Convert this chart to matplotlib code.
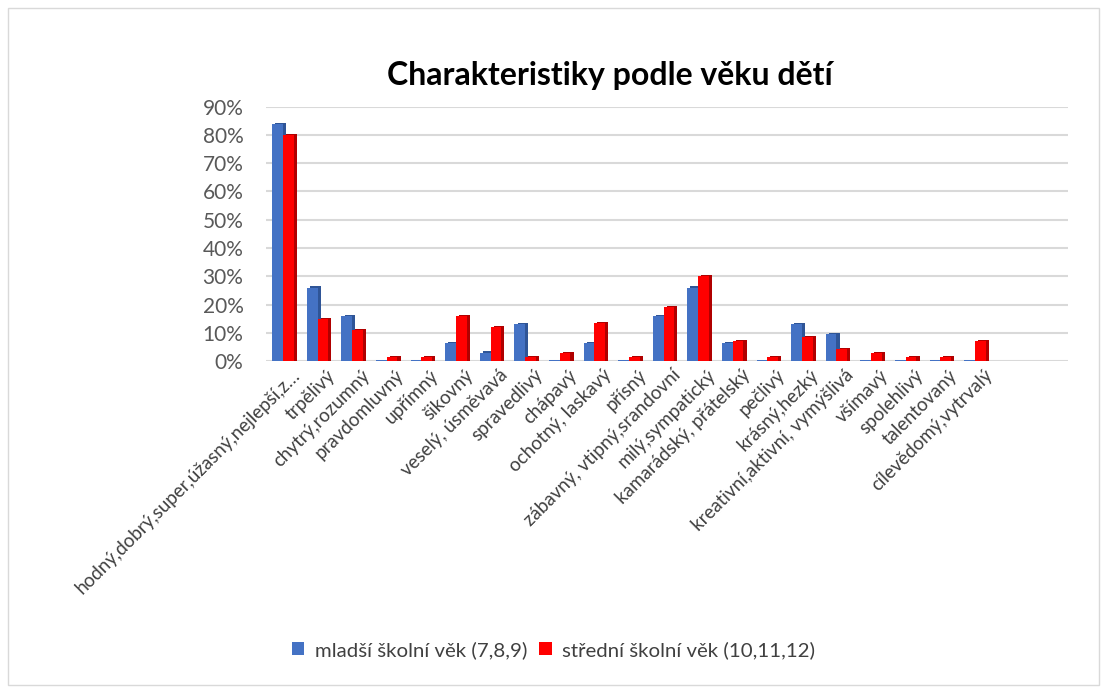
import numpy as np
import matplotlib
matplotlib.use("Agg")
import matplotlib.pyplot as plt
from matplotlib.patches import Rectangle
from matplotlib.ticker import PercentFormatter

plt.rcParams['font.family'] = ['Lato', 'DejaVu Sans']

categories = ["hodný,dobrý,super,úžasný,nejlepší,z…", "trpělivý", "chytrý,rozumný",
              "pravdomluvný", "upřímný", "šikovný", "veselý, úsměvavá", "spravedlivý",
              "chápavý", "ochotný, laskavý", "přísný", "zábavný, vtipný,srandovní",
              "milý,sympatický", "kamarádský, přátelský", "pečlivý", "krásný,hezký",
              "kreativní,aktivní, vymýšlivá", "všímavý", "spolehlivý", "talentovaný",
              "cílevědomý,vytrvalý"]
mladsi = [0.84, 0.26, 0.16, 0.0, 0.0, 0.065, 0.03, 0.13, 0.0, 0.065, 0.0,
          0.16, 0.26, 0.065, 0.0, 0.13, 0.097, 0.0, 0.0, 0.0, 0.0]
stredni = [0.80, 0.15, 0.11, 0.014, 0.014, 0.16, 0.12, 0.014, 0.028, 0.135, 0.014,
           0.19, 0.30, 0.07, 0.014, 0.084, 0.043, 0.028, 0.014, 0.014, 0.07]
series_names = ["mladší školní věk (7,8,9)", "střední školní věk (10,11,12)"]

blue, blue_dark = "#4472c4", "#2f5597"
red, red_dark = "#ff0000", "#b00000"

fig = plt.figure(figsize=(11.07, 6.93), dpi=100)
ax = fig.add_axes([0.240, 0.479, 0.725, 0.367])

x = np.arange(len(categories))
w = 0.31
depth = 0.09
# dark side faces for a slight 3D look
ax.bar(x - w / 2 + depth, np.array(mladsi) + 0.004, w, color=blue_dark, zorder=2)
ax.bar(x + w / 2 + depth, np.array(stredni) + 0.004, w, color=red_dark, zorder=2)
ax.bar(x - w / 2, np.maximum(mladsi, 0.002), w, color=blue, zorder=3, label=series_names[0])
ax.bar(x + w / 2, stredni, w, color=red, zorder=3, label=series_names[1])

ax.set_ylim(0, 0.9)
ax.set_xlim(-0.5, 22.7)
ax.set_yticks(np.arange(0, 0.91, 0.1))
ax.yaxis.set_major_formatter(PercentFormatter(1.0, decimals=0))
ax.grid(axis='y', color='#d9d9d9', linewidth=1.5, zorder=0)
ax.set_axisbelow(True)
for s in ax.spines.values():
    s.set_visible(False)
ax.tick_params(axis='y', length=0, labelsize=15, labelcolor='#595959', pad=16)
ax.tick_params(axis='x', length=0, pad=4)
ax.set_xticks(x + 0.25)
ax.set_xticklabels(categories, rotation=45, ha='right', rotation_mode='anchor',
                   fontsize=13.5, color='#404040')

fig.text(0.551, 0.891, "Charakteristiky podle věku dětí", ha='center', va='center',
         fontsize=23, fontweight='bold', color='black')

handles, labels = ax.get_legend_handles_labels()
fig.legend(handles, labels, loc='center', bbox_to_anchor=(0.50, 0.062), ncol=2,
           frameon=False, fontsize=14.7, handlelength=0.6, handleheight=0.6,
           columnspacing=0.6, handletextpad=0.5, labelcolor='#404040')

fig.patches.append(Rectangle((0.007, 0.012), 0.986, 0.976, transform=fig.transFigure,
                             fill=False, edgecolor='#d9d9d9', linewidth=1))

fig.savefig("out.png", dpi=100)
